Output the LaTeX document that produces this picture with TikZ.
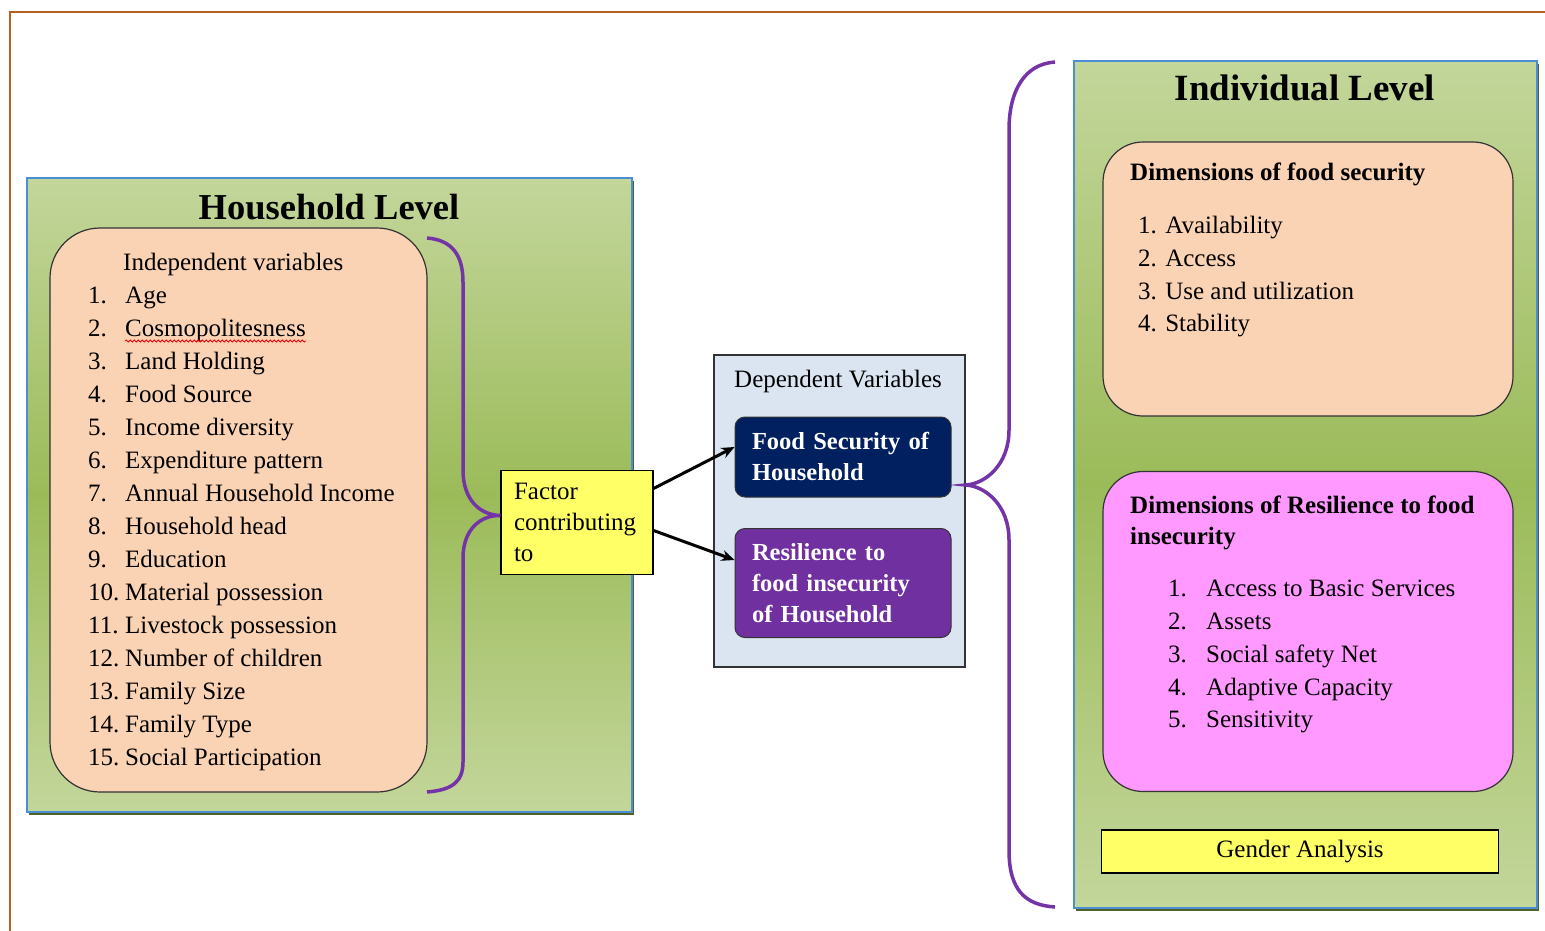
\documentclass[tikz,border=0pt]{standalone}
\usepackage{fontspec}
\setmainfont{Liberation Serif}
\usetikzlibrary{arrows.meta,calc,positioning,shadows,decorations.pathmorphing}
\definecolor{frameBrown}{HTML}{B5601E}
\definecolor{levelBlue}{HTML}{4A8FD6}
\definecolor{lightGreen}{HTML}{C3D69B}
\definecolor{darkGreen}{HTML}{9BBB59}
\definecolor{shadowGreen}{HTML}{4F6228}
\definecolor{peach}{HTML}{FAD3B4}
\definecolor{pinkDim}{HTML}{FF99FF}
\definecolor{factorYellow}{HTML}{FFFF66}
\definecolor{depGray}{HTML}{DBE5F1}
\definecolor{navyBox}{HTML}{002060}
\definecolor{purpleBox}{HTML}{7030A0}
\definecolor{braceMor}{HTML}{7433A6}
\definecolor{edgeGray}{HTML}{333333}

\begin{document}
\begin{tikzpicture}[x=1pt,y=-1pt,
  every node/.style={font=\fontsize{25}{31}\selectfont,inner sep=0pt},
  levelbox/.style={draw=levelBlue,line width=1.2pt,top color=lightGreen,bottom color=lightGreen,middle color=darkGreen,
    drop shadow={shadow xshift=2pt,shadow yshift=-3pt,fill=shadowGreen,opacity=1}},
  dimbox/.style={draw=edgeGray,line width=1.2pt,rounded corners=40pt},
  yellowbox/.style={draw=black,line width=1.2pt,fill=factorYellow},
  depvar/.style={draw=edgeGray,line width=1pt,rounded corners=10pt,text=white,align=left,
    font=\bfseries\fontsize{24.5}{31}\selectfont,inner xsep=17pt},
  brace/.style={braceMor,line width=3.5pt},
  link/.style={line width=3pt,-{Stealth[length=13pt,width=11pt]}}]
\useasboundingbox (0,0) rectangle (1545,931);
\draw[frameBrown,line width=1.5pt] (10,931) -- (10,12) -- (1545,12);

% household level
\node[levelbox,minimum width=605,minimum height=634] (hh) at (329.5,495) {};
\node[anchor=base,font=\bfseries\fontsize{36.5}{40}\selectfont] (hhTitle) at (329,219) {Household Level};
\node[dimbox,fill=peach,rounded corners=50pt,minimum width=377,minimum height=564] (indep) at (238.5,510) {};
\node[anchor=base west] (indepTitle) at (123,270) {Independent variables};
\foreach \n/\t in {1/Age, 2/Cosmopolitesness, 3/Land Holding, 4/Food Source, 5/Income diversity,
  6/Expenditure pattern, 7/Annual Household Income, 8/Household head, 9/Education,
  10/Material possession, 11/Livestock possession, 12/Number of children, 13/Family Size,
  14/Family Type, 15/Social Participation}{
  \node[anchor=base west] (hvNum\n) at (88,{270+33*\n}) {\n.};
  \node[anchor=base west] (hv\n) at (125,{270+33*\n}) {\t};
}
\draw[red,line width=0.8pt,decorate,decoration={snake,segment length=4pt,amplitude=1pt}]
  ([yshift=-5pt]hv2.base west) -- ([yshift=-5pt]hv2.base east);

% factor and dependent variables
\node[yellowbox,align=left,text width=126,inner xsep=13pt,minimum height=104] (fac) at (577,522.5) {Factor\\contributing\\to};
\coordinate (hbTop) at (427,238);
\coordinate (hbBot) at (427,792);
\draw[brace] (hbTop) .. controls (452,240) and (463,255) .. (463,282) -- (463,470)
  .. controls (463,500) and (480,515) .. ([yshift=7pt]fac.west)
  .. controls (480,515) and (463,530) .. (463,558) -- (463,762)
  .. controls (463,782) and (452,790) .. (hbBot);

\node[draw=edgeGray,line width=1.2pt,fill=depGray,minimum width=251,minimum height=312] (dep) at (839.5,511) {};
\node[anchor=base] (depTitle) at (838,387) {Dependent Variables};
\node[depvar,fill=navyBox,text width=182,minimum height=80] (fsh) at (843,457) {Food Security of\\Household};
\node[depvar,fill=purpleBox,text width=182,minimum height=109] (rsh) at (843,583) {Resilience to\\food insecurity\\of Household};
\draw[link] ([yshift=34pt]fac.east) -- ([yshift=10pt]fsh.west);
\draw[link] ([yshift=-8pt]fac.east) -- ([yshift=23pt]rsh.west);

% individual level
\coordinate (rbTop) at (1055,62);
\coordinate (rbBot) at (1055,907);
\draw[brace] (rbTop) .. controls (1025,64) and (1009,90) .. (1009,130) -- (1009,430)
  .. controls (1009,465) and (985,484) .. ([yshift=26pt]dep.east)
  .. controls (985,486) and (1009,505) .. (1009,540) -- (1009,850)
  .. controls (1009,890) and (1025,905) .. (rbBot);

\node[levelbox,minimum width=463,minimum height=847] (ind) at (1305.5,484.5) {};
\node[anchor=base,font=\bfseries\fontsize{37}{40}\selectfont] (indTitle) at (1305,101) {Individual Level};

\node[dimbox,fill=peach,minimum width=410,minimum height=274] (fsDim) at (1308,279) {};
\node[anchor=base west,font=\bfseries\fontsize{25}{31}\selectfont] (fsDimTitle) at (1130,180) {Dimensions of food security};
\foreach \n/\t in {1/Availability, 2/Access, 3/Use and utilization, 4/Stability}{
  \node[anchor=base west] (fs\n) at (1138,{201+32.7*\n}) {\n. \t};
}

\node[dimbox,fill=pinkDim,minimum width=410,minimum height=320] (rsDim) at (1308,631.5) {};
\node[anchor=base west,font=\bfseries\fontsize{25}{31}\selectfont] (rsDimTitle1) at (1130,513) {Dimensions of Resilience to food};
\node[anchor=base west,font=\bfseries\fontsize{25}{31}\selectfont] (rsDimTitle2) at (1130,544) {insecurity};
\foreach \n/\t in {1/Access to Basic Services, 2/Assets, 3/Social safety Net, 4/Adaptive Capacity, 5/Sensitivity}{
  \node[anchor=base west] (rsNum\n) at (1168,{564+32.75*\n}) {\n.};
  \node[anchor=base west] (rs\n) at (1206,{564+32.75*\n}) {\t};
}

\node[yellowbox,minimum width=397,minimum height=43] (gender) at (1300,851.5) {Gender Analysis};
\end{tikzpicture}
\end{document}
